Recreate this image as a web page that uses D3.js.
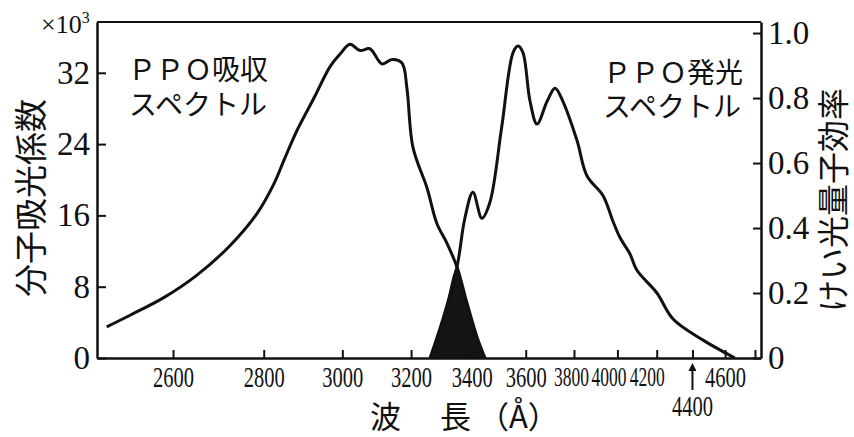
<!DOCTYPE html>
<html>
  <head>
    <meta charset="utf-8">
    <title>PPO</title>
  <script src="https://d3js.org/d3.v7.min.js"></script>
  <style>
    body { margin: 0; background: #fff; }
    text { fill: #111; }
  </style>
 </head>
  <body>

<script type="text/javascript">

// PPO absorption spectrum (wavelength in angstrom, molar absorption coef x10^3)
var absWave = [2471, 2515, 2582, 2650, 2722, 2784, 2825, 2849, 2881, 2925, 2967, 2994, 3021, 3049, 3077, 3112, 3142, 3172, 3187, 3206, 3250, 3282, 3315, 3349, 3383, 3418, 3447];
var absCoef = [3.5, 4.8, 6.8, 9.3, 12.6, 16.2, 19.6, 22.2, 25.5, 29.2, 32.7, 34.1, 35.2, 34.5, 34.7, 33.0, 33.5, 33.1, 30.3, 23.6, 19.1, 15.1, 12.9, 10.2, 6.2, 2.4, 0];

// PPO emission spectrum (fluorescence quantum efficiency)
var emWave = [3260, 3302, 3349, 3376, 3404, 3436, 3465, 3508, 3551, 3570, 3589, 3617, 3645, 3686, 3719, 3752, 3813, 3858, 3931, 3979, 4013, 4062, 4097, 4201, 4289, 4463, 4664];
var emYield = [0, 0.12, 0.28, 0.43, 0.51, 0.43, 0.48, 0.71, 0.94, 0.96, 0.94, 0.79, 0.72, 0.79, 0.83, 0.79, 0.67, 0.56, 0.50, 0.42, 0.37, 0.32, 0.27, 0.20, 0.12, 0.055, 0];

var crossWave = 3349;   // where the two curves meet

var waveTicks = [2600, 2800, 3000, 3200, 3400, 3600, 3800, 4000, 4200, 4400, 4600, 4800];
var leftTicks = [0, 8, 16, 24, 32];
var rightTicks = [0, 0.2, 0.4, 0.6, 0.8, 1.0];

(function() {

var width = 854, height = 437;
var pLeft = 97, pRight = 761, pTop = 22, pBottom = 358;
var serif = "'Liberation Serif', 'DejaVu Serif', serif";
var cjk = "'Noto Sans CJK JP', 'Noto Sans CJK SC', sans-serif";

var svg = d3.select("body")
      .append("svg")
      .attr("width", width)
      .attr("height", height)

// x axis is linear in wavenumber (cm^-1), labelled in angstrom
var xw = d3.scaleLinear()
    .domain([40764, 20651])
    .range([pLeft, pRight]);
var x = function(l) { return xw(1e8 / l); };

var yL = d3.scaleLinear().domain([0, 37.7]).range([pBottom, pTop]);
var yR = d3.scaleLinear().domain([0, 1.034]).range([pBottom, pTop]);

var absData = absWave.map(function(w, i) { return {x: x(w), y: yL(absCoef[i])}; });
var emData = emWave.map(function(w, i) { return {x: x(w), y: yR(emYield[i])}; });

// overlap region: emission up to the crossing, absorption after it
var overlap = emData.filter(function(d, i) { return emWave[i] <= crossWave; })
    .concat(absData.filter(function(d, i) { return absWave[i] > crossWave; }));

var curve = d3.curveCatmullRom.alpha(0.5);

svg.append("path")
    .datum(overlap)
    .attr("fill", "#141414")
    .attr("d", d3.area().curve(curve)
        .x(function(d) { return d.x; })
        .y0(pBottom)
        .y1(function(d) { return d.y; }));

var line = d3.line().curve(curve)
    .x(function(d) { return d.x; })
    .y(function(d) { return d.y; });

[absData, emData].forEach(function(data) {
  svg.append("path")
      .datum(data)
      .attr("fill", "none")
      .attr("stroke", "#111")
      .attr("stroke-width", 3)
      .attr("stroke-linejoin", "round")
      .attr("d", line);
});

// top border
svg.append("line")
    .attr("x1", pLeft).attr("x2", pRight)
    .attr("y1", pTop).attr("y2", pTop)
    .attr("stroke", "#111").attr("stroke-width", 2);

// bottom axis, crowded labels squeezed and nudged left like the original
var labelShift = {3800: -3, 4000: -9, 4200: -10};
var gx = svg.append("g")
    .attr("transform", "translate(0," + pBottom + ")")
    .call(d3.axisBottom(xw)
        .tickValues(waveTicks.map(function(w) { return 1e8 / w; }))
        .tickSizeInner(-8).tickSizeOuter(0).tickPadding(8)
        .tickFormat(function(v) {
          var w = Math.round(1e8 / v);
          return (w == 4400 || w == 4800) ? "" : w;
        }));
gx.selectAll("text")
    .attr("font-family", serif)
    .attr("font-size", function(v) { return labelShift[Math.round(1e8 / v)] ? 28 : 29; })
    .attr("dx", function(v) { return labelShift[Math.round(1e8 / v)] || 0; })
    .attr("textLength", function(v) {
      if (!this.textContent) return null;
      return labelShift[Math.round(1e8 / v)] ? 35 : 41;
    })
    .attr("lengthAdjust", "spacingAndGlyphs");

// left axis
var gl = svg.append("g")
    .attr("transform", "translate(" + pLeft + ",0)")
    .call(d3.axisLeft(yL).tickValues(leftTicks)
        .tickSizeInner(-9).tickSizeOuter(0).tickPadding(7));
gl.selectAll("text").attr("font-family", serif).attr("font-size", 33);

// right axis
var gr = svg.append("g")
    .attr("transform", "translate(" + pRight + ",0)")
    .call(d3.axisRight(yR).tickValues(rightTicks)
        .tickSizeInner(-8).tickSizeOuter(0).tickPadding(7)
        .tickFormat(function(v) { return v == 0 ? "0" : d3.format(".1f")(v); }));
gr.selectAll("text").attr("font-family", serif).attr("font-size", 33);

svg.selectAll(".domain").attr("stroke", "#111").attr("stroke-width", 2.5);
svg.selectAll(".tick line").attr("stroke", "#111").attr("stroke-width", 2);

// 4400 label under an arrow
svg.append("defs").append("marker")
    .attr("id", "head")
    .attr("viewBox", "0 0 10 10")
    .attr("refX", 5).attr("refY", 5)
    .attr("markerWidth", 4).attr("markerHeight", 4)
    .attr("orient", "auto")
    .append("path").attr("d", "M0,0L10,5L0,10z").attr("fill", "#111");

svg.append("line")
    .attr("x1", x(4400)).attr("x2", x(4400))
    .attr("y1", 390).attr("y2", 367)
    .attr("stroke", "#111").attr("stroke-width", 2)
    .attr("marker-end", "url(#head)");

svg.append("text")
    .attr("x", x(4400)).attr("y", 416)
    .attr("text-anchor", "middle")
    .attr("font-family", serif).attr("font-size", 29)
    .attr("textLength", 41).attr("lengthAdjust", "spacingAndGlyphs")
    .text("4400");

// x10^3 on the left axis
var mult = svg.append("text")
    .attr("x", 41).attr("y", 33)
    .attr("font-family", serif).attr("font-size", 26);
mult.append("tspan").text("×10");
mult.append("tspan").attr("dy", -10).attr("font-size", 16).text("3");

// axis titles
svg.append("text")
    .attr("transform", "translate(43,198) rotate(-90)")
    .attr("text-anchor", "middle")
    .attr("font-family", cjk).attr("font-size", 33)
    .text("分子吸光係数");

svg.append("text")
    .attr("transform", "translate(845,200) rotate(-90)")
    .attr("text-anchor", "middle")
    .attr("font-family", cjk).attr("font-size", 32)
    .text("けい光量子効率");

var xt = svg.append("text")
    .attr("y", 428)
    .attr("font-family", cjk).attr("font-size", 31);
xt.append("tspan").attr("x", 370).text("波");
xt.append("tspan").attr("x", 440).text("長");
xt.append("tspan").attr("x", 478).text("（Å）");

// curve labels
[["ＰＰＯ吸収", 128, 80], ["スペクトル", 129, 115],
 ["ＰＰＯ発光", 603, 83], ["スペクトル", 603, 117]].forEach(function(t) {
  svg.append("text")
      .attr("x", t[1]).attr("y", t[2])
      .attr("font-family", cjk).attr("font-size", 28)
      .text(t[0]);
});

})();

</script>


</body>
</html>
